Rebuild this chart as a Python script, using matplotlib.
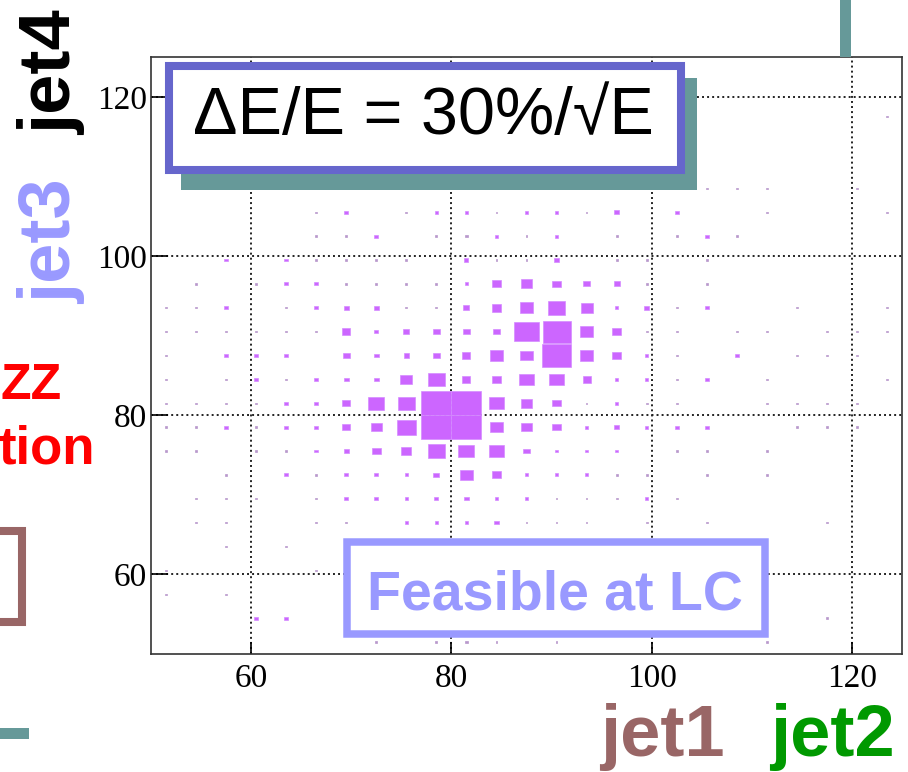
import numpy as np
import matplotlib
matplotlib.use("Agg")
import matplotlib.pyplot as plt
from matplotlib.patches import Rectangle
from matplotlib.lines import Line2D

# binning of the 2D histogram (3 GeV bins from 50 to 125 on both axes)
x_edges = [50 + 3 * k for k in range(26)]
y_edges = [50 + 3 * k for k in range(26)]

# relative box size (percent of a full bin)
# first row = top row of the plot (y = 122-125), last row = bottom (y = 50-53)
box_size = [
    [0, 0, 0, 0, 0, 0, 0, 0, 0, 0, 0, 0, 0, 0, 0, 0, 0, 0, 0, 0, 0, 0, 0, 0, 0],
    [0, 0, 0, 0, 0, 0, 0, 0, 0, 0, 0, 0, 0, 0, 0, 0, 0, 0, 0, 0, 0, 0, 0, 0, 0],
    [0, 0, 0, 0, 0, 0, 0, 0, 0, 0, 0, 0, 0, 0, 0, 0, 0, 0, 0, 0, 0, 0, 0, 0, 6],
    [0, 0, 0, 0, 0, 0, 0, 0, 0, 0, 0, 0, 0, 0, 0, 0, 0, 0, 0, 0, 0, 0, 0, 0, 0],
    [0, 0, 0, 0, 0, 0, 0, 0, 0, 0, 0, 0, 0, 0, 0, 0, 0, 0, 0, 0, 0, 0, 0, 0, 0],
    [0, 0, 0, 0, 0, 0, 0, 0, 0, 0, 0, 0, 0, 0, 0, 0, 0, 0, 6, 6, 6, 0, 0, 6, 0],
    [0, 0, 0, 0, 0, 6, 12, 0, 6, 12, 12, 6, 12, 12, 6, 15, 0, 12, 0, 0, 6, 0, 0, 0, 6],
    [0, 0, 0, 0, 0, 6, 6, 12, 0, 6, 9, 12, 6, 12, 0, 6, 0, 6, 12, 6, 0, 0, 0, 0, 0],
    [0, 0, 12, 0, 12, 6, 6, 6, 6, 0, 13, 6, 6, 18, 0, 6, 6, 0, 6, 0, 0, 0, 0, 0, 0],
    [0, 6, 0, 6, 12, 12, 6, 6, 6, 6, 12, 29, 38, 27, 22, 20, 6, 0, 6, 0, 0, 0, 0, 0, 0],
    [6, 6, 12, 0, 6, 12, 15, 15, 6, 6, 20, 33, 44, 58, 40, 12, 18, 6, 12, 0, 0, 6, 0, 0, 6],
    [6, 6, 6, 6, 6, 6, 27, 12, 20, 24, 22, 24, 82, 93, 44, 29, 6, 6, 0, 6, 6, 0, 6, 6, 6],
    [6, 0, 12, 12, 12, 0, 22, 15, 18, 24, 27, 44, 40, 96, 44, 29, 12, 6, 0, 12, 0, 6, 6, 6, 0],
    [6, 0, 6, 15, 6, 12, 15, 15, 40, 55, 27, 31, 49, 47, 27, 12, 12, 6, 12, 0, 6, 0, 0, 0, 6],
    [6, 6, 6, 6, 12, 12, 27, 53, 56, 100, 100, 49, 36, 27, 6, 12, 6, 6, 0, 0, 6, 6, 6, 6, 0],
    [6, 6, 12, 6, 12, 12, 27, 36, 62, 100, 100, 42, 36, 27, 12, 15, 12, 12, 12, 0, 0, 6, 6, 6, 0],
    [6, 6, 0, 6, 6, 12, 15, 29, 33, 58, 53, 49, 20, 12, 12, 12, 0, 6, 6, 0, 6, 0, 0, 0, 0],
    [0, 0, 6, 0, 12, 6, 12, 12, 12, 20, 44, 29, 12, 12, 12, 6, 6, 0, 6, 0, 6, 0, 0, 0, 0],
    [0, 6, 6, 6, 0, 6, 12, 12, 12, 14, 14, 12, 12, 6, 6, 6, 12, 6, 0, 0, 0, 0, 0, 0, 0],
    [0, 6, 6, 0, 0, 6, 6, 0, 12, 12, 12, 15, 6, 6, 6, 0, 6, 0, 6, 0, 0, 0, 6, 0, 0],
    [0, 0, 6, 0, 6, 0, 0, 0, 0, 0, 0, 0, 0, 0, 0, 0, 0, 0, 0, 0, 0, 0, 0, 0, 0],
    [6, 0, 0, 0, 0, 6, 0, 0, 0, 0, 0, 0, 0, 0, 0, 0, 0, 0, 0, 0, 0, 0, 0, 0, 0],
    [6, 0, 6, 0, 0, 0, 0, 0, 0, 0, 0, 0, 0, 0, 0, 0, 0, 0, 0, 0, 0, 0, 0, 0, 0],
    [0, 0, 0, 12, 12, 0, 0, 0, 0, 0, 0, 0, 0, 0, 0, 0, 0, 0, 0, 0, 0, 0, 6, 0, 0],
    [0, 0, 0, 0, 0, 0, 0, 6, 0, 6, 9, 6, 0, 6, 0, 0, 0, 0, 0, 0, 6, 0, 0, 0, 0],
]

x_ticks = [60, 80, 100, 120]
y_ticks = [60, 80, 100, 120]

title_text = "\u0394E/E = 30%/\u221aE"
feasible_text = "Feasible at LC"

W, H = 908, 772


def fx(px):
    # pixel -> figure fraction (x)
    return px / W


def fy(py):
    # pixel (from top) -> figure fraction (y)
    return 1 - py / H


fig = plt.figure(figsize=(W / 100, H / 100), dpi=100)
ax = fig.add_axes([fx(151), fy(654), fx(902) - fx(151), fy(57) - fy(654)])

# boxes, size proportional to the bin content
sizes = np.array(box_size)[::-1]  # row 0 = bottom
xc = (np.array(x_edges[:-1]) + np.array(x_edges[1:])) / 2
yc = (np.array(y_edges[:-1]) + np.array(y_edges[1:])) / 2
bw = x_edges[1] - x_edges[0]
bh = y_edges[1] - y_edges[0]
for j in range(len(yc)):
    for i in range(len(xc)):
        v = sizes[j, i]
        if v <= 0:
            continue
        f = v / 100.0
        w, h = bw * f, bh * f
        if v > 10:
            fc, ec = "#cc66ff", "#d58cff"
        else:
            # tiny boxes look greyish in the picture
            fc, ec = "#b898cc", "#b898cc"
        ax.add_patch(Rectangle((xc[i] - w / 2, yc[j] - h / 2), w, h,
                               facecolor=fc, edgecolor=ec, lw=0.5, zorder=2))

ax.set_xlim(x_edges[0], x_edges[-1])
ax.set_ylim(y_edges[0], y_edges[-1])
ax.set_xticks(x_ticks)
ax.set_yticks(y_ticks)
ax.grid(True, color="#222222", linestyle=(0, (1, 1.6)), lw=1.4, zorder=1)
ax.set_axisbelow(True)
ax.tick_params(axis="x", direction="in", length=9, width=1.2, pad=7, labelsize=24)
ax.tick_params(axis="y", direction="in", length=12, width=1.2, pad=3, labelsize=24)
for lab in ax.get_xticklabels() + ax.get_yticklabels():
    lab.set_fontfamily(["Liberation Serif", "DejaVu Serif"])
for s in ax.spines.values():
    s.set_color("#333333")
    s.set_linewidth(1.2)

sans = ["Liberation Sans", "DejaVu Sans"]

# dE/E box with its teal shadow
fig.add_artist(Rectangle((fx(181), fy(190)), fx(697) - fx(181), fy(78) - fy(190),
                         transform=fig.transFigure, facecolor="#669999",
                         edgecolor="none", zorder=5))
fig.add_artist(Rectangle((fx(169), fy(170)), fx(681) - fx(169), fy(66) - fy(170),
                         transform=fig.transFigure, facecolor="white",
                         edgecolor="#6666cc", lw=5.8, zorder=6))
fig.text(fx(423), fy(117), title_text, ha="center", va="center",
         fontsize=48, family=sans, color="black", zorder=7)

# "Feasible at LC" box
fig.add_artist(Rectangle((fx(346.5), fy(634)), fx(765) - fx(346.5), fy(542) - fy(634),
                         transform=fig.transFigure, facecolor="white",
                         edgecolor="#9999ff", lw=5.4, zorder=6))
fig.text(fx(555), fy(609), feasible_text, ha="center", va="baseline",
         fontsize=40, family=sans, weight="bold", color="#9999ff", zorder=7)

# jet labels
fig.text(fx(600), fy(756), "jet1", ha="left", va="baseline", fontsize=52,
         family=sans, weight="bold", color="#996666")
fig.text(fx(770), fy(756), "jet2", ha="left", va="baseline", fontsize=52,
         family=sans, weight="bold", color="#009900")
fig.text(fx(52), fy(73), "jet4", ha="center", va="center", rotation=90,
         fontsize=52, family=sans, weight="bold", color="black")
fig.text(fx(52), fy(242), "jet3", ha="center", va="center", rotation=90,
         fontsize=52, family=sans, weight="bold", color="#9999ff")

# red text at the left edge
fig.text(fx(0), fy(399), "ZZ", ha="left", va="baseline", fontsize=36,
         family=sans, weight="bold", color="#ff0000")
fig.text(fx(95), fy(463), "tion", ha="right", va="baseline", fontsize=38,
         family=sans, weight="bold", color="#ff0000")

# bracket and teal bars
fig.add_artist(Line2D([fx(0), fx(22), fx(22), fx(0)],
                      [fy(530.5), fy(530.5), fy(622), fy(622)],
                      transform=fig.transFigure, color="#996666", lw=5.8,
                      solid_joinstyle="miter"))
fig.add_artist(Rectangle((fx(0), fy(739)), fx(29), fy(728) - fy(739),
                         transform=fig.transFigure, facecolor="#669999", edgecolor="none"))
fig.add_artist(Rectangle((fx(840), fy(57)), fx(851) - fx(840), fy(0) - fy(57),
                         transform=fig.transFigure, facecolor="#669999", edgecolor="none"))

fig.savefig("out.png", dpi=100)
